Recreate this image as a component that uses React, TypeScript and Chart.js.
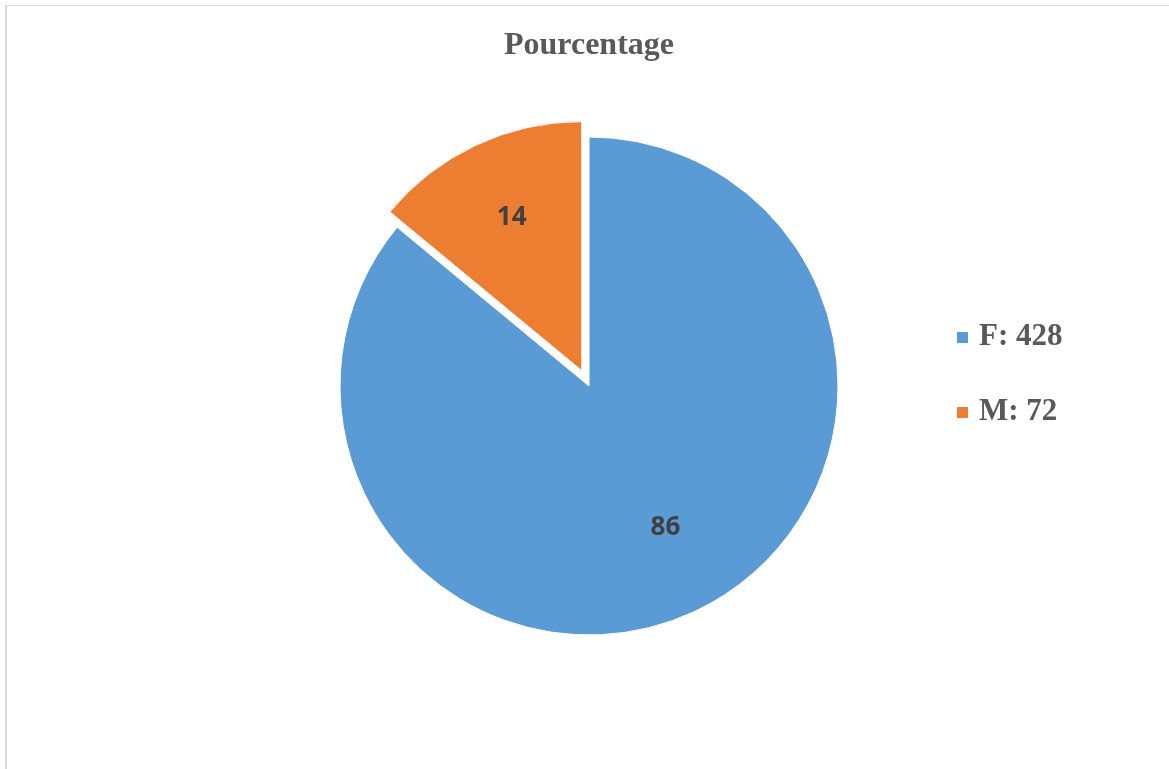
import React, { useEffect, useRef } from "react";
import { Chart, registerables } from "chart.js";

Chart.register(...registerables);

const titleText = "Pourcentage";
const categories = ["F", "M"];
const counts = [428, 72];
const percentages = [86, 14];
const sliceColors = ["#5B9BD5", "#ED7D31"];
const explodeDistance = [0, 17];
const labelRadiusFraction = [0.645, 0.675];
const labelAngleShift = [-0.056, 0.01];

export default function App() {
  const canvasRef = useRef<HTMLCanvasElement | null>(null);

  useEffect(() => {
    const canvas = canvasRef.current;
    if (!canvas) return;

    const explodePlugin = {
      id: "explodeSlices",
      beforeDatasetDraw(chart: any, args: any) {
        const ctx = chart.ctx;
        const els = args.meta.data;
        els.forEach((el: any, i: number) => {
          const d = explodeDistance[i] || 0;
          const mid = (el.startAngle + el.endAngle) / 2;
          ctx.save();
          ctx.translate(Math.cos(mid) * d, Math.sin(mid) * d);
          el.draw(ctx, chart.chartArea);
          ctx.restore();
        });
        return false;
      },
    };

    const labelsPlugin = {
      id: "sliceLabels",
      afterDatasetsDraw(chart: any) {
        const ctx = chart.ctx;
        const meta = chart.getDatasetMeta(0);
        const values = chart.data.datasets[0].data;
        ctx.save();
        ctx.font = "bold 26px 'Open Sans', sans-serif";
        ctx.fillStyle = "#404040";
        ctx.textAlign = "center";
        ctx.textBaseline = "middle";
        meta.data.forEach((el: any, i: number) => {
          const mid = (el.startAngle + el.endAngle) / 2;
          const d = explodeDistance[i] || 0;
          const a = mid + (labelAngleShift[i] || 0);
          const r = el.outerRadius * labelRadiusFraction[i];
          const x = el.x + Math.cos(mid) * d + Math.cos(a) * r;
          const y = el.y + Math.sin(mid) * d + Math.sin(a) * r;
          ctx.fillText(String(values[i]), x, y);
        });
        ctx.restore();
      },
    };

    const legendPlugin = {
      id: "sideLegend",
      afterDraw(chart: any) {
        const ctx = chart.ctx;
        ctx.save();
        ctx.font = "bold 31px 'Liberation Serif', 'Times New Roman', serif";
        ctx.textBaseline = "alphabetic";
        ctx.textAlign = "left";
        categories.forEach((c, i) => {
          const baseline = 345 + i * 75;
          ctx.fillStyle = sliceColors[i];
          ctx.fillRect(957, baseline - 13, 11, 11);
          ctx.fillStyle = "#595959";
          ctx.fillText(`${c}: ${counts[i]}`, 979, baseline);
        });
        ctx.restore();
      },
    };

    const chart = new Chart(canvas, {
      type: "pie",
      data: {
        labels: categories,
        datasets: [
          {
            data: percentages,
            backgroundColor: sliceColors,
            borderColor: "#ffffff",
            borderWidth: 1,
          },
        ],
      },
      options: {
        responsive: false,
        devicePixelRatio: 1,
        animation: false,
        events: [],
        layout: {
          padding: { top: 0, left: 339.5, right: 330.5, bottom: 133.5 },
        },
        plugins: {
          legend: { display: false },
          tooltip: { enabled: false },
          title: {
            display: true,
            text: titleText,
            color: "#595959",
            font: { family: "'Liberation Serif', 'Times New Roman', serif", size: 32, weight: "bold", lineHeight: 1.2 },
            padding: { top: 27, bottom: 71.1 },
          },
        },
      },
      plugins: [explodePlugin, labelsPlugin, legendPlugin],
    });

    return () => chart.destroy();
  }, []);

  return (
    <div style={{ position: "absolute", left: 0, top: 0, width: 1169, height: 769, overflow: "hidden", background: "#ffffff" }}>
      <div
        style={{
          position: "absolute",
          left: 5,
          top: 5,
          width: 1250,
          height: 850,
          borderLeft: "2px solid #d9d9d9",
          borderTop: "1px solid #d9d9d9",
          boxSizing: "border-box",
        }}
      />
      <canvas ref={canvasRef} width={1169} height={769} style={{ position: "absolute", left: 0, top: 0, width: 1169, height: 769 }} />
    </div>
  );
}
